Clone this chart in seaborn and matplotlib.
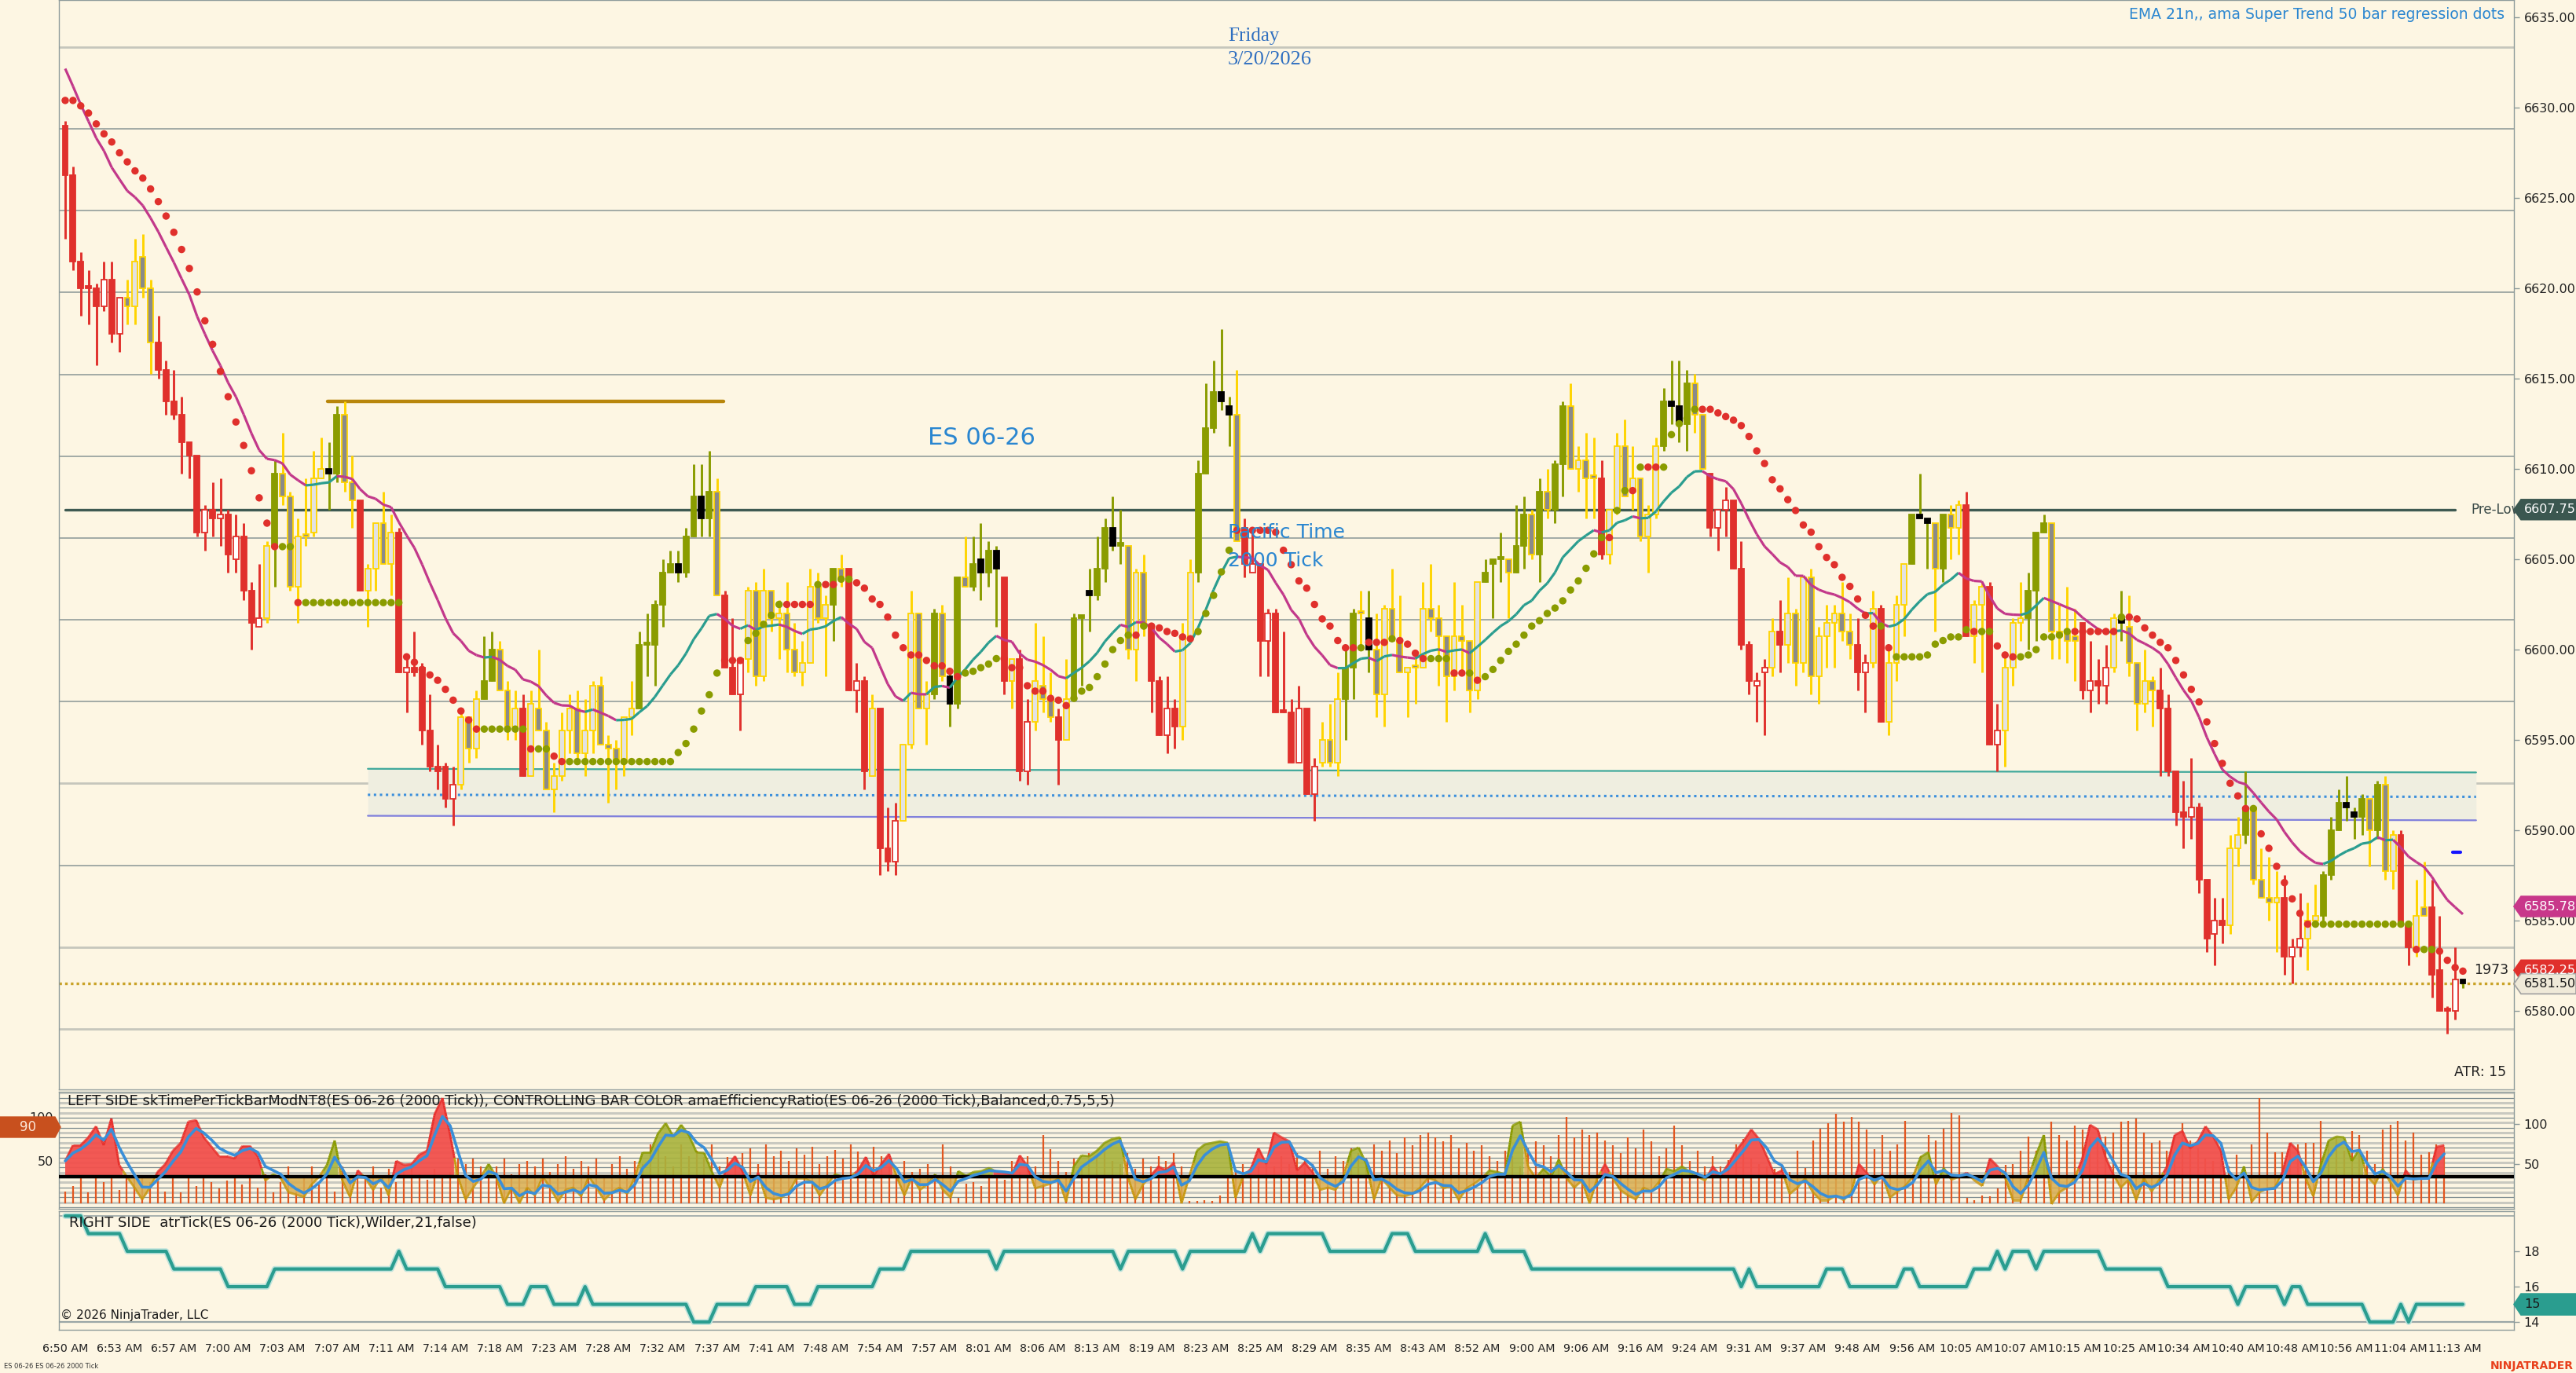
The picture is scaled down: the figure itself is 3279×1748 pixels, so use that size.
import numpy as np
import pandas as pd
import seaborn as sns
import matplotlib.pyplot as plt
from matplotlib.collections import LineCollection
from matplotlib.patches import Polygon

# ---------------- price bars (ES 06-26, 2000 tick) ----------------
opens = [
    6629.0, 6626.25, 6621.5, 6620.0, 6620.0, 6619.0, 6620.5, 6617.5, 6619.5, 6619.0,
    6621.75, 6620.0, 6617.0, 6615.5, 6613.75, 6613.0, 6611.5, 6610.75, 6606.5, 6607.75,
    6607.25, 6607.5, 6605.0, 6606.25, 6603.25, 6601.25, 6601.75, 6605.75, 6609.75, 6608.5,
    6603.5, 6606.25, 6606.5, 6609.5, 6610.0, 6609.75, 6613.0, 6609.25, 6608.25, 6603.25,
    6604.5, 6607.0, 6604.75, 6606.5, 6598.75, 6599.0, 6599.0, 6595.5, 6593.5, 6593.5,
    6591.75, 6592.5, 6596.25, 6594.5, 6597.25, 6598.25, 6600.0, 6597.75, 6595.75, 6596.75,
    6593.0, 6596.75, 6595.5, 6592.25, 6593.0, 6595.5, 6596.75, 6594.25, 6595.5, 6598.0,
    6594.75, 6594.5, 6593.75, 6596.25, 6596.75, 6600.25, 6600.25, 6602.5, 6604.25, 6604.75,
    6604.25, 6606.25, 6608.5, 6607.25, 6608.75, 6603.0, 6599.0, 6597.5, 6599.5, 6603.25,
    6598.5, 6603.25, 6601.75, 6602.0, 6600.0, 6598.75, 6599.25, 6603.5, 6601.75, 6602.5,
    6604.5, 6604.5, 6597.75, 6598.25, 6593.0, 6596.75, 6589.0, 6588.25, 6590.5, 6594.75,
    6602.0, 6596.75, 6597.5, 6602.0, 6598.5, 6597.0, 6604.0, 6603.5, 6605.0, 6604.25,
    6605.5, 6604.0, 6598.25, 6599.5, 6593.25, 6596.0, 6598.0, 6597.25, 6596.25, 6595.0,
    6597.25, 6601.75, 6603.25, 6603.0, 6604.5, 6606.75, 6605.75, 6605.75, 6600.0, 6604.25,
    6601.25, 6598.25, 6595.25, 6596.75, 6595.75, 6600.75, 6604.25, 6609.75, 6612.25, 6614.25,
    6613.5, 6613.0, 6606.75, 6604.25, 6604.75, 6600.5, 6602.0, 6596.5, 6596.5, 6593.75,
    6596.75, 6592.0, 6593.75, 6595.0, 6593.75, 6597.25, 6599.0, 6602.0, 6601.75, 6600.0,
    6597.5, 6602.25, 6600.5, 6598.75, 6599.0, 6599.0, 6602.25, 6601.75, 6600.75, 6598.5,
    6600.75, 6600.5, 6597.75, 6603.75, 6604.75, 6605.0, 6605.0, 6604.25, 6605.75, 6607.5,
    6605.25, 6608.75, 6607.75, 6610.25, 6613.5, 6610.0, 6610.5, 6609.5, 6609.5, 6605.25,
    6607.75, 6611.25, 6608.75, 6609.5, 6606.25, 6607.5, 6611.25, 6613.75, 6613.5, 6612.5,
    6614.75, 6613.0, 6609.75, 6606.75, 6607.75, 6608.25, 6604.5, 6600.25, 6598.0, 6598.75,
    6599.0, 6601.0, 6600.25, 6602.0, 6599.25, 6604.0, 6598.5, 6600.75, 6601.5, 6602.0,
    6601.0, 6600.25, 6598.75, 6599.25, 6602.25, 6596.0, 6599.25, 6602.5, 6604.75, 6607.5,
    6607.25, 6607.0, 6604.5, 6607.5, 6606.75, 6608.0, 6600.75, 6602.5, 6603.5, 6594.75,
    6595.5, 6599.0, 6601.5, 6601.75, 6603.25, 6606.5, 6607.0, 6601.0, 6601.0, 6600.75,
    6601.5, 6597.75, 6598.25, 6598.0, 6599.0, 6601.75, 6601.25, 6599.25, 6597.0, 6598.25,
    6597.75, 6596.75, 6593.25, 6591.0, 6590.75, 6591.25, 6587.25, 6584.25, 6585.0, 6584.75,
    6589.0, 6589.75, 6591.25, 6587.25, 6586.25, 6586.0, 6586.25, 6583.0, 6583.5, 6584.0,
    6585.0, 6585.25, 6587.5, 6590.0, 6591.5, 6591.0, 6590.75, 6591.75, 6590.0, 6592.5,
    6587.75, 6589.75, 6584.75, 6583.5, 6585.75, 6585.75, 6582.25, 6580.0, 6580.0, 6581.75,
]
highs = [
    6629.25, 6626.75, 6622.0, 6621.0, 6620.25, 6621.5, 6621.5, 6619.5, 6620.5, 6622.75,
    6623.0, 6620.5, 6618.5, 6616.0, 6615.5, 6614.0, 6611.5, 6610.75, 6608.0, 6609.25,
    6609.5, 6607.75, 6607.5, 6607.0, 6603.75, 6604.75, 6606.0, 6610.5, 6612.0, 6608.75,
    6607.25, 6609.5, 6611.0, 6611.75, 6611.5, 6613.5, 6613.75, 6610.75, 6608.25, 6604.75,
    6607.0, 6608.75, 6607.5, 6606.75, 6599.75, 6601.0, 6599.25, 6597.5, 6594.75, 6593.75,
    6593.5, 6596.5, 6596.25, 6597.75, 6600.75, 6601.0, 6600.5, 6598.25, 6597.75, 6597.5,
    6597.75, 6600.0, 6596.0, 6593.75, 6596.5, 6597.5, 6597.75, 6597.25, 6598.25, 6598.5,
    6595.25, 6595.0, 6596.25, 6598.25, 6601.0, 6602.0, 6602.75, 6605.0, 6605.5, 6605.5,
    6606.75, 6610.25, 6610.25, 6611.0, 6609.5, 6603.25, 6601.75, 6599.5, 6603.5, 6603.75,
    6604.5, 6603.25, 6602.75, 6603.75, 6601.5, 6600.5, 6604.5, 6604.25, 6603.0, 6604.5,
    6605.25, 6604.5, 6599.25, 6598.5, 6597.5, 6596.75, 6591.25, 6591.5, 6594.75, 6603.25,
    6602.0, 6598.25, 6602.25, 6602.5, 6598.75, 6604.0, 6606.25, 6606.25, 6607.0, 6606.0,
    6605.75, 6604.0, 6599.5, 6600.0, 6597.25, 6601.5, 6600.75, 6598.75, 6596.75, 6599.5,
    6602.0, 6601.75, 6604.5, 6606.25, 6607.25, 6608.5, 6607.75, 6605.75, 6604.5, 6605.25,
    6601.5, 6598.5, 6598.5, 6597.25, 6601.5, 6605.0, 6610.5, 6614.75, 6616.0, 6617.75,
    6614.0, 6615.5, 6607.25, 6606.75, 6604.75, 6602.25, 6602.25, 6601.0, 6597.25, 6598.0,
    6596.75, 6594.0, 6596.0, 6597.0, 6598.75, 6600.0, 6602.25, 6603.25, 6603.25, 6602.0,
    6602.5, 6604.5, 6603.0, 6599.0, 6599.75, 6603.75, 6604.75, 6602.5, 6600.75, 6603.75,
    6602.5, 6600.5, 6603.75, 6605.0, 6605.0, 6606.5, 6605.0, 6608.0, 6608.5, 6607.75,
    6609.5, 6610.0, 6610.5, 6613.75, 6614.75, 6611.25, 6612.0, 6611.75, 6610.5, 6607.75,
    6612.0, 6612.75, 6611.25, 6609.5, 6608.0, 6611.75, 6614.5, 6616.0, 6616.0, 6615.5,
    6615.25, 6613.0, 6609.75, 6607.75, 6609.0, 6608.25, 6606.0, 6600.5, 6598.75, 6599.5,
    6601.75, 6602.75, 6604.0, 6602.25, 6604.0, 6604.5, 6601.25, 6602.5, 6602.5, 6603.75,
    6602.0, 6601.75, 6599.75, 6603.25, 6602.5, 6600.0, 6603.0, 6604.75, 6607.5, 6609.75,
    6607.25, 6607.0, 6607.5, 6608.0, 6608.25, 6608.75, 6602.75, 6603.75, 6603.75, 6597.0,
    6599.75, 6601.75, 6603.75, 6604.25, 6606.5, 6607.5, 6607.0, 6602.5, 6603.5, 6602.25,
    6601.5, 6600.5, 6599.5, 6600.25, 6602.0, 6603.25, 6603.0, 6599.25, 6600.0, 6598.5,
    6599.0, 6597.5, 6593.25, 6592.75, 6594.0, 6591.5, 6587.25, 6586.25, 6586.25, 6589.75,
    6590.75, 6593.25, 6591.25, 6589.0, 6588.5, 6587.75, 6587.5, 6584.0, 6586.5, 6586.0,
    6587.0, 6587.75, 6590.75, 6592.25, 6593.0, 6591.25, 6592.0, 6591.75, 6592.75, 6593.0,
    6590.0, 6590.0, 6585.0, 6587.25, 6588.25, 6587.25, 6585.25, 6580.25, 6583.5, 6581.75,
]
lows = [
    6622.75, 6621.0, 6618.5, 6618.0, 6615.75, 6618.75, 6617.0, 6616.5, 6618.0, 6618.0,
    6619.5, 6615.25, 6615.0, 6613.0, 6612.75, 6609.75, 6609.5, 6606.25, 6605.5, 6606.25,
    6605.75, 6604.25, 6604.25, 6602.75, 6600.0, 6601.25, 6601.5, 6603.5, 6608.0, 6603.25,
    6601.5, 6605.75, 6606.25, 6609.5, 6607.75, 6609.25, 6608.75, 6606.75, 6603.25, 6601.25,
    6603.25, 6604.75, 6603.0, 6598.75, 6596.5, 6598.5, 6594.75, 6593.25, 6592.25, 6591.25,
    6590.25, 6592.25, 6593.75, 6594.0, 6597.25, 6598.25, 6597.75, 6595.0, 6595.0, 6593.0,
    6593.0, 6595.5, 6592.25, 6591.0, 6592.75, 6594.25, 6594.0, 6593.0, 6594.25, 6594.75,
    6591.5, 6592.25, 6593.0, 6595.25, 6596.75, 6598.5, 6598.0, 6601.25, 6604.25, 6603.75,
    6604.0, 6606.25, 6606.25, 6606.25, 6603.0, 6599.0, 6597.5, 6595.5, 6598.75, 6598.0,
    6598.25, 6601.0, 6599.5, 6598.75, 6598.5, 6598.0, 6599.25, 6601.5, 6598.5, 6600.5,
    6603.5, 6597.75, 6596.5, 6592.25, 6593.0, 6587.5, 6587.75, 6587.5, 6590.5, 6594.5,
    6596.75, 6594.75, 6597.25, 6598.25, 6595.75, 6596.75, 6603.5, 6603.25, 6602.75, 6603.5,
    6601.25, 6597.5, 6596.75, 6592.75, 6592.5, 6595.5, 6596.5, 6596.0, 6592.5, 6595.0,
    6597.25, 6598.0, 6601.0, 6602.75, 6603.75, 6605.5, 6604.75, 6599.5, 6598.25, 6600.75,
    6596.5, 6595.25, 6594.25, 6594.5, 6595.0, 6600.5, 6603.75, 6609.75, 6612.0, 6613.25,
    6611.25, 6606.0, 6604.0, 6604.25, 6598.5, 6598.5, 6596.5, 6596.5, 6593.75, 6593.75,
    6592.0, 6590.5, 6593.5, 6593.5, 6593.0, 6595.0, 6597.25, 6600.0, 6598.75, 6596.25,
    6595.75, 6600.5, 6598.75, 6596.25, 6597.0, 6599.0, 6601.0, 6598.0, 6596.0, 6597.75,
    6598.75, 6596.5, 6597.25, 6603.75, 6601.75, 6603.75, 6601.75, 6604.25, 6604.5, 6605.0,
    6603.75, 6607.25, 6607.0, 6608.5, 6610.0, 6608.75, 6607.25, 6607.25, 6605.0, 6604.75,
    6607.5, 6608.5, 6607.75, 6606.0, 6604.25, 6607.25, 6611.0, 6612.5, 6611.5, 6611.0,
    6612.0, 6610.0, 6606.25, 6605.5, 6606.25, 6604.5, 6600.0, 6597.5, 6596.0, 6595.25,
    6598.5, 6598.75, 6599.25, 6598.0, 6598.75, 6597.5, 6597.0, 6599.0, 6599.0, 6600.5,
    6599.5, 6597.75, 6596.5, 6599.0, 6596.0, 6595.25, 6598.25, 6600.75, 6604.75, 6607.25,
    6604.5, 6601.0, 6603.75, 6605.0, 6605.25, 6600.75, 6599.25, 6598.75, 6594.75, 6593.25,
    6593.5, 6598.0, 6600.5, 6600.0, 6600.5, 6606.5, 6599.5, 6599.5, 6599.25, 6598.25,
    6597.25, 6596.5, 6597.0, 6597.0, 6598.75, 6600.5, 6598.5, 6595.5, 6596.5, 6595.75,
    6593.0, 6593.0, 6590.25, 6589.0, 6589.5, 6586.5, 6583.25, 6582.5, 6583.75, 6584.25,
    6588.0, 6589.25, 6587.0, 6586.25, 6585.0, 6583.25, 6582.0, 6581.5, 6583.0, 6582.25,
    6584.75, 6584.75, 6587.25, 6590.0, 6590.5, 6589.5, 6589.75, 6588.0, 6589.5, 6587.25,
    6586.75, 6584.75, 6582.5, 6583.0, 6585.25, 6580.75, 6580.0, 6578.75, 6579.5, 6581.25,
]
closes = [
    6626.25, 6621.5, 6620.0, 6620.0, 6619.0, 6620.5, 6617.5, 6619.5, 6619.0, 6621.5,
    6620.0, 6617.0, 6615.5, 6613.75, 6613.0, 6611.5, 6610.75, 6606.5, 6607.75, 6607.25,
    6607.5, 6605.25, 6606.25, 6603.25, 6601.5, 6601.75, 6605.75, 6609.75, 6608.5, 6603.5,
    6606.25, 6606.25, 6609.5, 6610.0, 6609.75, 6613.0, 6609.25, 6608.25, 6603.25, 6604.5,
    6607.0, 6604.75, 6606.5, 6598.75, 6599.0, 6598.75, 6595.5, 6593.5, 6593.25, 6591.75,
    6592.5, 6596.25, 6594.5, 6597.25, 6598.25, 6600.0, 6597.75, 6595.75, 6596.75, 6593.0,
    6597.0, 6595.5, 6592.25, 6593.0, 6595.5, 6596.75, 6594.25, 6595.5, 6598.0, 6594.75,
    6594.5, 6593.75, 6596.25, 6596.75, 6600.25, 6600.25, 6602.5, 6604.25, 6604.75, 6604.25,
    6606.25, 6608.5, 6607.25, 6608.75, 6603.0, 6599.0, 6597.5, 6599.5, 6603.25, 6598.5,
    6603.25, 6601.75, 6602.0, 6600.0, 6598.75, 6599.25, 6603.5, 6601.75, 6602.5, 6604.5,
    6604.0, 6597.75, 6598.25, 6593.25, 6596.75, 6589.0, 6588.25, 6590.5, 6594.75, 6602.0,
    6596.75, 6597.5, 6602.0, 6598.5, 6597.0, 6604.0, 6603.5, 6604.75, 6604.25, 6605.5,
    6604.5, 6598.25, 6599.5, 6593.25, 6596.0, 6598.25, 6597.25, 6596.25, 6595.0, 6597.25,
    6601.75, 6601.75, 6603.0, 6604.5, 6606.75, 6605.75, 6605.75, 6600.0, 6604.25, 6601.25,
    6598.25, 6595.25, 6596.75, 6595.75, 6600.75, 6604.25, 6609.75, 6612.25, 6614.25, 6613.75,
    6613.0, 6606.0, 6604.75, 6604.75, 6600.5, 6602.0, 6596.5, 6596.5, 6593.75, 6596.75,
    6592.0, 6593.5, 6595.0, 6593.75, 6597.25, 6599.0, 6602.0, 6602.0, 6600.0, 6597.5,
    6602.25, 6600.5, 6598.75, 6599.0, 6599.0, 6602.25, 6601.75, 6600.75, 6598.5, 6600.75,
    6600.5, 6597.75, 6603.75, 6604.25, 6605.0, 6605.0, 6604.25, 6605.75, 6607.5, 6605.25,
    6608.75, 6607.75, 6610.25, 6613.5, 6610.0, 6610.5, 6609.5, 6609.5, 6605.25, 6607.75,
    6611.25, 6608.5, 6609.5, 6606.25, 6607.5, 6611.25, 6613.75, 6613.5, 6612.5, 6614.75,
    6613.0, 6610.0, 6606.75, 6607.75, 6608.25, 6604.5, 6600.25, 6598.25, 6598.25, 6599.0,
    6601.0, 6600.25, 6602.0, 6599.25, 6604.0, 6598.5, 6600.75, 6601.5, 6602.0, 6601.0,
    6600.25, 6598.75, 6599.25, 6602.25, 6596.0, 6599.25, 6602.5, 6604.75, 6607.5, 6607.25,
    6607.0, 6604.5, 6607.5, 6606.75, 6608.0, 6600.75, 6602.5, 6603.5, 6594.75, 6595.5,
    6599.0, 6601.5, 6601.75, 6603.25, 6606.5, 6607.0, 6601.0, 6600.75, 6600.5, 6600.5,
    6597.75, 6598.25, 6598.0, 6599.0, 6601.75, 6601.5, 6599.25, 6597.0, 6598.25, 6597.75,
    6596.75, 6593.25, 6591.0, 6590.75, 6591.25, 6587.25, 6584.0, 6585.0, 6584.75, 6589.0,
    6589.75, 6591.25, 6587.25, 6586.25, 6586.0, 6586.25, 6583.0, 6583.5, 6584.0, 6585.0,
    6585.25, 6587.5, 6590.0, 6591.5, 6591.25, 6590.75, 6591.75, 6590.0, 6592.5, 6587.75,
    6589.75, 6584.75, 6583.5, 6585.25, 6585.25, 6582.0, 6580.0, 6580.0, 6581.75, 6581.5,
]
# efficiency-ratio colour of each bar: R red, Y yellow, O olive  (colour, number of bars)
regime_runs = [
    ("R", 8), ("Y", 4), ("R", 14), ("Y", 1), ("O", 1), ("Y", 6), ("O", 2), ("Y", 2), ("R", 1), ("Y", 4),
    ("R", 8), ("Y", 3), ("O", 2), ("Y", 3), ("R", 1), ("Y", 14), ("O", 10), ("Y", 1), ("R", 3), ("Y", 11),
    ("O", 1), ("Y", 1), ("R", 3), ("Y", 1), ("R", 3), ("Y", 4), ("O", 1), ("Y", 1), ("O", 2), ("Y", 1),
    ("O", 4), ("R", 1), ("Y", 1), ("R", 2), ("Y", 3), ("R", 1), ("Y", 1), ("O", 7), ("Y", 3), ("R", 4),
    ("Y", 2), ("O", 5), ("Y", 1), ("R", 10), ("Y", 3), ("O", 2), ("Y", 1), ("O", 1), ("Y", 14), ("O", 3),
    ("Y", 1), ("O", 2), ("Y", 1), ("O", 1), ("Y", 1), ("O", 2), ("Y", 4), ("R", 1), ("Y", 7), ("O", 4),
    ("Y", 2), ("R", 8), ("Y", 1), ("R", 1), ("Y", 9), ("R", 2), ("Y", 1), ("R", 1), ("Y", 3), ("O", 3),
    ("Y", 1), ("O", 1), ("Y", 2), ("R", 1), ("Y", 2), ("R", 2), ("Y", 3), ("O", 3), ("Y", 4), ("R", 4),
    ("Y", 1), ("O", 1), ("Y", 4), ("R", 9), ("Y", 2), ("O", 1), ("Y", 4), ("R", 3), ("Y", 2), ("O", 6),
    ("Y", 1), ("O", 1), ("Y", 2), ("R", 2), ("Y", 2), ("R", 4), ("O", 1),
]
# super trend dots: value per bar, and side (D red above price, U olive below)
st_values = [
    6630.4, 6630.4, 6630.1, 6629.7, 6629.1, 6628.55, 6628.1, 6627.5, 6627.0, 6626.5,
    6626.1, 6625.5, 6624.8, 6624.0, 6623.1, 6622.15, 6621.1, 6619.8, 6618.2, 6616.9,
    6615.4, 6614.0, 6612.6, 6611.3, 6609.9, 6608.4, 6607.0, 6605.7, 6605.7, 6605.7,
    6602.6, 6602.6, 6602.6, 6602.6, 6602.6, 6602.6, 6602.6, 6602.6, 6602.6, 6602.6,
    6602.6, 6602.6, 6602.6, 6602.6, 6599.6, 6599.3, 6598.9, 6598.6, 6598.3, 6597.8,
    6597.2, 6596.6, 6596.1, 6595.6, 6595.6, 6595.6, 6595.6, 6595.6, 6595.6, 6595.6,
    6594.5, 6594.5, 6594.5, 6594.1, 6593.8, 6593.8, 6593.8, 6593.8, 6593.8, 6593.8,
    6593.8, 6593.8, 6593.8, 6593.8, 6593.8, 6593.8, 6593.8, 6593.8, 6593.8, 6594.3,
    6594.8, 6595.6, 6596.6, 6597.5, 6598.7, 6599.4, 6599.4, 6599.4, 6600.5, 6600.9,
    6601.4, 6601.9, 6602.5, 6602.5, 6602.5, 6602.5, 6602.5, 6603.6, 6603.6, 6603.6,
    6603.9, 6603.9, 6603.7, 6603.4, 6602.8, 6602.5, 6601.8, 6600.8, 6600.1, 6599.7,
    6599.7, 6599.4, 6599.1, 6599.1, 6598.8, 6598.5, 6598.7, 6598.8, 6599.0, 6599.2,
    6599.5, 6599.5, 6599.0, 6599.0, 6598.0, 6597.7, 6597.7, 6597.3, 6597.2, 6596.9,
    6597.3, 6597.7, 6597.9, 6598.5, 6599.2, 6600.0, 6600.5, 6600.8, 6600.8, 6601.3,
    6601.3, 6601.2, 6601.0, 6600.9, 6600.7, 6600.6, 6601.0, 6602.0, 6603.0, 6604.3,
    6605.5, 6606.6, 6606.6, 6606.6, 6606.6, 6606.6, 6606.5, 6605.5, 6604.7, 6603.8,
    6603.4, 6602.5, 6601.7, 6601.3, 6600.5, 6600.1, 6600.1, 6600.1, 6600.4, 6600.4,
    6600.4, 6600.6, 6600.5, 6600.3, 6599.8, 6599.5, 6599.5, 6599.5, 6599.5, 6598.7,
    6598.7, 6598.7, 6598.3, 6598.5, 6598.9, 6599.4, 6599.9, 6600.3, 6600.8, 6601.3,
    6601.6, 6602.0, 6602.3, 6602.7, 6603.3, 6603.8, 6604.5, 6605.3, 6606.2, 6606.2,
    6607.7, 6608.8, 6608.8, 6610.1, 6610.1, 6610.1, 6610.1, 6611.9, 6612.5, 6612.8,
    6613.3, 6613.3, 6613.3, 6613.1, 6612.9, 6612.7, 6612.4, 6611.8, 6611.0, 6610.3,
    6609.4, 6608.9, 6608.3, 6607.7, 6606.9, 6606.5, 6605.7, 6605.1, 6604.7, 6604.0,
    6603.5, 6602.8, 6601.9, 6601.3, 6601.3, 6600.1, 6599.6, 6599.6, 6599.6, 6599.6,
    6599.7, 6600.3, 6600.5, 6600.7, 6600.7, 6601.1, 6601.0, 6601.0, 6601.0, 6600.2,
    6599.7, 6599.6, 6599.6, 6599.7, 6600.0, 6600.7, 6600.7, 6600.8, 6601.0, 6601.0,
    6601.0, 6601.0, 6601.0, 6601.0, 6601.0, 6601.8, 6601.8, 6601.7, 6601.2, 6600.8,
    6600.4, 6600.1, 6599.4, 6598.6, 6597.8, 6597.1, 6596.0, 6594.8, 6593.7, 6592.6,
    6591.9, 6591.2, 6591.2, 6589.8, 6589.0, 6588.0, 6587.1, 6586.2, 6585.4, 6584.8,
    6584.8, 6584.8, 6584.8, 6584.8, 6584.8, 6584.8, 6584.8, 6584.8, 6584.8, 6584.8,
    6584.8, 6584.8, 6584.8, 6583.4, 6583.4, 6583.4, 6583.3, 6582.8, 6582.4, 6582.2,
]
trend_runs = [
    ("D", 28), ("U", 2), ("D", 1), ("U", 13), ("D", 10), ("U", 6), ("D", 1), ("U", 2), ("D", 2), ("U", 20),
    ("D", 3), ("U", 5), ("D", 4), ("U", 1), ("D", 2), ("U", 2), ("D", 14), ("U", 5), ("D", 9), ("U", 8),
    ("D", 1), ("U", 1), ("D", 6), ("U", 5), ("D", 16), ("U", 1), ("D", 3), ("U", 1), ("D", 4), ("U", 3),
    ("D", 2), ("U", 1), ("D", 1), ("U", 16), ("D", 1), ("U", 2), ("D", 1), ("U", 1), ("D", 2), ("U", 5),
    ("D", 23), ("U", 1), ("D", 1), ("U", 10), ("D", 1), ("U", 2), ("D", 3), ("U", 7), ("D", 6), ("U", 1),
    ("D", 16), ("U", 1), ("D", 7), ("U", 13), ("D", 1), ("U", 2), ("D", 4),
]
ema_seed = 6632.75
pre_low = 6607.75
last_price = 6581.50
level_gold = 6613.75

# ---------------- skTimePerTickBar panel ----------------
tpt_area = [
    54, 74, 74, 84, 98, 74, 108, 49, 34, 20,
    5, 20, 40, 50, 67, 77, 104, 106, 84, 72,
    60, 60, 57, 73, 73, 60, 29, 37, 32, 14,
    11, 8, 24, 34, 49, 80, 29, 8, 42, 32,
    17, 34, 10, 54, 49, 50, 62, 67, 114, 134,
    87, 34, 5, 20, 34, 50, 34, 0, 20, 0,
    20, 10, 34, 20, 2, 17, 20, 9, 34, 20,
    4, 14, 20, 12, 34, 65, 65, 89, 102, 85,
    100, 87, 65, 64, 40, 20, 47, 60, 40, 10,
    39, 7, 5, 7, 14, 32, 32, 27, 10, 24,
    37, 34, 34, 42, 59, 35, 50, 63, 34, 10,
    34, 17, 24, 37, 17, 7, 41, 35, 40, 41,
    45, 40, 39, 37, 61, 47, 19, 22, 25, 32,
    2, 47, 61, 60, 67, 77, 82, 84, 34, 5,
    24, 35, 47, 42, 52, 0, 34, 67, 75, 77,
    79, 77, 7, 34, 44, 70, 50, 90, 84, 79,
    42, 52, 40, 17, 20, 17, 34, 67, 71, 50,
    5, 32, 20, 10, 9, 12, 20, 32, 29, 19,
    22, 4, 19, 25, 32, 42, 40, 37, 99, 104,
    47, 32, 44, 34, 56, 32, 20, 29, 0, 32,
    50, 32, 17, 10, 5, 20, 15, 27, 44, 41,
    47, 40, 34, 29, 47, 35, 50, 67, 79, 94,
    82, 60, 37, 42, 12, 20, 32, 14, 4, 4,
    10, 4, 15, 50, 39, 24, 37, 7, 15, 22,
    34, 59, 65, 24, 45, 30, 34, 39, 29, 22,
    57, 47, 32, 4, 4, 34, 62, 87, -1, 14,
    20, 32, 57, 100, 94, 59, 37, 20, 30, 4,
    32, 15, 30, 47, 87, 92, 70, 79, 98, 85,
    67, 5, 20, 47, 2, 14, 19, 20, 40, 77,
    67, 32, 9, 50, 80, 85, 84, 54, 69, 34,
    24, 44, 27, 10, 42, 30, 32, 32, 72, 74,
]
area_red_runs = [(0, 7), (12, 25), (38, 38), (43, 50), (86, 88), (90, 90), (103, 107), (121, 125),
                 (141, 144), (154, 162), (200, 200), (214, 223), (233, 234), (236, 236), (247, 247),
                 (250, 251), (262, 266), (273, 280), (288, 290), (304, 304), (308, 309)]
area_olive_runs = [(26, 27), (34, 35), (55, 55), (75, 84), (100, 100), (113, 113), (116, 120),
                   (131, 137), (147, 151), (167, 169), (185, 189), (192, 194), (208, 211),
                   (241, 244), (256, 257), (283, 283), (293, 298), (301, 301)]
tpt_bars = [
    15, 22, 34, 14, 34, 27, 34, 17, 34, 32, 34, 27, 34, 15, 34, 14, 34, 22, 34, 27, 19, 29, 34, 24, 34, 20,
    37, 14, 27, 47, 15, 34, 47, 24, 40, 15, 47, 32, 37, 34, 47, 20, 44, 27, 40, 50, 37, 30, 44, 34, 40,
    57, 50, 57, 47, 50, 47, 57, 37, 50, 54, 47, 57, 40, 50, 60, 44, 54, 47, 57, 34, 50, 60, 44, 54, 50,
    75, 70, 60, 47, 75, 60, 67, 59, 75, 47, 59, 57, 64, 70, 50, 75, 60, 67, 54, 70, 62, 72, 50, 60, 68,
    57, 75, 66, 54, 72, 60,
    47, 37, 54, 40, 44, 50, 37, 75, 47, 7, 25, 27, 22, 37, 34, 30, 54, 40, 60, 47, 87, 69, 54, 40, 57,
    44, 64, 60, 67, 54, 50, 64, 44, 57, 47, 60, 54, 64, 47,
    3, 3, 4, 3, 10,
    34, 40, 50, 37, 47, 54, 47, 60, 50, 64, 57, 50, 67, 44, 60, 54, 70, 64, 57, 75, 67, 80, 64, 84, 74,
    87, 90, 84, 79, 87, 70, 77, 67, 74, 60,
    54, 67, 60, 47, 70, 79, 74, 60, 87, 110, 84, 94, 87, 90, 80, 74, 64, 84, 70, 94, 79, 60, 70, 99, 74,
    54, 67, 47, 60,
    47, 55, 75, 82, 57, 50, 47, 44, 50, 40, 67, 45, 80, 95, 102, 114, 104, 110, 104, 94, 69, 87, 67, 75,
    105, 37, 60, 87, 80, 95, 115, 112,
    7, 4, 10, 9,
    19, 49, 50, 67, 85, 67, 87, 104, 87, 80, 99, 94, 85, 80, 85, 90, 104, 105, 108, 90, 77, 80, 67, 65,
    102, 80, 70, 57, 54, 62,
    47, 62, 47, 75, 134, 90, 65, 65, 77, 75, 77, 77, 105, 80, 85, 67, 92, 87, 67, 50, 94, 100, 105, 80,
    90, 62, 65, 75, 72,
]
tpt_zero = 34
# these panel readings were taken every 9.80 px while the bars sit every 9.877 px
tpt_step = 9.80 / 9.877

# ---------------- atrTick panel (ticks): (value, number of bars) ----------------
atr_runs = [
    (20, 3), (19, 5), (18, 6), (17, 7), (16, 6), (17, 16), (18, 1), (17, 5), (16, 8), (15, 3),
    (16, 3), (15, 4), (16, 1), (15, 13), (14, 3), (15, 5), (16, 5), (15, 3), (16, 8), (17, 4),
    (18, 11), (17, 1), (18, 15), (17, 1), (18, 7), (17, 1), (18, 8), (19, 1), (18, 1), (19, 8),
    (18, 8), (19, 3), (18, 9), (19, 1), (18, 5), (17, 27), (16, 1), (17, 1), (16, 9), (17, 3),
    (16, 7), (17, 2), (16, 7), (17, 3), (18, 1), (17, 1), (18, 3), (17, 1), (18, 8), (17, 8),
    (16, 9), (15, 1), (16, 5), (15, 1), (16, 2), (15, 8), (14, 4), (15, 1), (14, 1), (15, 7),
]

time_labels = [
    "6:50 AM", "6:53 AM", "6:57 AM", "7:00 AM", "7:03 AM", "7:07 AM", "7:11 AM", "7:14 AM", "7:18 AM",
    "7:23 AM", "7:28 AM", "7:32 AM", "7:37 AM", "7:41 AM", "7:48 AM", "7:54 AM", "7:57 AM", "8:01 AM",
    "8:06 AM", "8:13 AM", "8:19 AM", "8:23 AM", "8:25 AM", "8:29 AM", "8:35 AM", "8:43 AM", "8:52 AM",
    "9:00 AM", "9:06 AM", "9:16 AM", "9:24 AM", "9:31 AM", "9:37 AM", "9:48 AM", "9:56 AM", "10:05 AM",
    "10:07 AM", "10:15 AM", "10:25 AM", "10:34 AM", "10:40 AM", "10:48 AM", "10:56 AM", "11:04 AM",
    "11:13 AM",
]

# ---------------- derived series ----------------
o = np.array(opens, float)
c = np.array(closes, float)
h = np.maximum(np.array(highs, float), np.maximum(o, c))
l = np.minimum(np.array(lows, float), np.minimum(o, c))
n = len(c)
x = np.arange(n)
regime = "".join(k * m for k, m in regime_runs)
side = "".join(k * m for k, m in trend_runs)
atr_ticks = np.concatenate([[v] * m for v, m in atr_runs]).astype(float)

# EMA 21
alpha = 2 / 22
ema = np.empty(n)
prev = ema_seed
for i in range(n):
    prev = prev + alpha * (c[i] - prev)
    ema[i] = prev

# ---------------- figure ----------------
W, H = 3279, 1748
BG = "#fdf6e3"
RED, YEL, OLV = "#e0302c", "#ffd400", "#8a9c00"
BLUE_TXT = "#2a86d0"
sns.set_style("white", {"axes.facecolor": BG, "figure.facecolor": BG})
plt.rcParams["font.family"] = ["DejaVu Sans"]

fig = plt.figure(figsize=(W / 100, H / 100), dpi=100)


def rect(top, bottom):
    return [75 / W, 1 - bottom / H, (3200 - 75) / W, (bottom - top) / H]


ax = fig.add_axes(rect(0, 1387))
ax_t = fig.add_axes(rect(1390, 1539))
ax_a = fig.add_axes(rect(1542, 1693))
XL = (-0.81, 315.58)
for a in (ax, ax_t, ax_a):
    a.set_xlim(XL)
    a.set_facecolor(BG)
    for sp in a.spines.values():
        sp.set_color("#8e9b9b")
        sp.set_linewidth(1.0)

# ---- main price panel ----
ax.set_ylim(6575.65, 6635.96)
for k, gp in enumerate(np.arange(6579.0, 6634.5, 4.53)):
    if k in (0, 1, 3, 12):
        ax.axhline(gp, color="#c6c6bc", lw=2.0, zorder=0)
    else:
        ax.axhline(gp, color="#8a9696", lw=1.1, zorder=0)

zx = [39.0, 310.7]
ax.fill_between(zx, [6590.8, 6590.55], [6593.4, 6593.2], color="#efeee0", lw=0, zorder=1)
ax.plot(zx, [6593.4, 6593.2], color="#3fa89b", lw=1.6, zorder=2)
ax.plot(zx, [6591.96, 6591.85], color="#3b8fdc", lw=2.2, ls=(0, (1, 1.5)), zorder=2)
ax.plot(zx, [6590.8, 6590.55], color="#8080dc", lw=1.6, zorder=2)
ax.plot([0, 308.0], [pre_low, pre_low], color="#3e5a52", lw=2.4, zorder=2)
ax.plot([33.8, 84.8], [level_gold, level_gold], color="#b8860b", lw=3.2, zorder=2)
ax.axhline(last_price, color="#c9a227", lw=2.4, ls=(0, (1, 1.2)), zorder=2)

# candles
face, edge = [], []
for i in range(n):
    r = regime[i]
    upbar, dn = c[i] > o[i], c[i] < o[i]
    if r == "R":
        ec = RED
        fc = "white" if upbar else RED
    elif r == "Y":
        ec = YEL
        fc = "#e2e2e2" if upbar else "#8a8a8a"
    else:
        ec = "#000000" if dn else OLV
        fc = "#000000" if dn else OLV
    face.append(fc)
    edge.append(ec)
wick = [RED if r == "R" else (YEL if r == "Y" else OLV) for r in regime]
ax.vlines(x, l, h, colors=wick, lw=2.1, zorder=3)
body_lo = np.minimum(o, c)
body_h = np.maximum(np.abs(c - o), 0.15)
ax.bar(x, body_h, bottom=body_lo, width=0.7, color=face, edgecolor=edge, linewidth=1.3, zorder=4)

# EMA 21 coloured by slope
pts = np.column_stack([x, ema]).reshape(-1, 1, 2)
segs = np.concatenate([pts[:-1], pts[1:]], axis=1)
seg_col = ["#2a9d8f" if ema[i + 1] >= ema[i] else "#c2388a" for i in range(n - 1)]
ax.add_collection(LineCollection(segs, colors=seg_col, linewidths=2.3, zorder=5))

# super trend dots
dots = pd.DataFrame({"bar": x, "st": st_values, "side": list(side)})
sns.scatterplot(data=dots, x="bar", y="st", hue="side", palette={"U": OLV, "D": RED},
                s=46, linewidth=0, legend=False, ax=ax, zorder=6)
ax.plot([307.7, 308.7], [6588.8, 6588.8], color="#1414ff", lw=3, zorder=6)

ax.set_xlabel("")
ax.set_ylabel("")
ax.set_xticks([])
ax.yaxis.tick_right()
yt = np.arange(6580, 6636, 5)
ax.set_yticks(yt)
ax.set_yticklabels([f"{v:.2f}" for v in yt])
ax.tick_params(axis="y", length=5, width=1, color="#8e9b9b", labelsize=11.5, labelcolor="#222222", pad=4)

ax.text(310.0, pre_low, "Pre-Low", fontsize=12, color="#3a4a48", va="center", ha="left", zorder=8)
ax.text(310.4, 6582.25, "1973", fontsize=12.5, color="#222222", va="center", ha="left", zorder=8)
ax.text(314.6, 6576.6, "ATR: 15", fontsize=12.5, color="#222222", va="center", ha="right", zorder=8)


def price_box(a, y, text, fc, tc, ec=None, half=0.56):
    tr = a.get_yaxis_transform()
    xt = 1.0 + 9 / 3125
    x1 = (3279 - 75) / 3125
    poly = Polygon([(1.0, y), (xt, y + half), (x1, y + half), (x1, y - half), (xt, y - half)],
                   closed=True, transform=tr, facecolor=fc, edgecolor=ec or fc, lw=1.2,
                   clip_on=False, zorder=20)
    a.add_patch(poly)
    a.text(xt + 4 / 3125, y, text, transform=tr, fontsize=11.5, color=tc, va="center",
           ha="left", clip_on=False, zorder=21)


price_box(ax, pre_low, "6607.75", "#3b5750", "white")
price_box(ax, 6585.78, "6585.78", "#c8378a", "white")
price_box(ax, 6582.25, "6582.25", RED, "white")
price_box(ax, last_price, "6581.50", "#efe9d8", "#1a1a1a", ec="#a0a0a0")

# ---- skTimePerTickBar panel ----
ax_t.set_ylim(-7, 142)
for k in range(-1, 23):
    gv = 1.3 + 6.33 * k
    if k % 2 == 0:
        ax_t.axhline(gv, color="#c9c9c0", lw=2.2, zorder=0)
    else:
        ax_t.axhline(gv, color="#7d8b8f", lw=0.9, zorder=0)
xt_pos = x * tpt_step
ax_t.vlines(xt_pos, 0, tpt_bars, color="#e2561f", lw=1.6, zorder=1)

area = np.array(tpt_area, float)
acol = np.array(["y"] * n)
for s0, s1 in area_red_runs:
    acol[s0:s1 + 1] = "r"
for s0, s1 in area_olive_runs:
    acol[s0:s1 + 1] = "o"
fi = np.linspace(0, n - 1, (n - 1) * 20 + 1)
xf = fi * tpt_step
af = np.interp(fi, x, area)
cf = acol[np.clip(np.rint(fi).astype(int), 0, n - 1)]
above = af >= tpt_zero
ax_t.fill_between(xf, af, tpt_zero, where=above & (cf == "r"), color="#f2504c", alpha=0.95, lw=0, zorder=2)
ax_t.fill_between(xf, af, tpt_zero, where=above & (cf == "o"), color="#a9b33c", alpha=0.9, lw=0, zorder=2)
ax_t.fill_between(xf, af, tpt_zero, where=(af <= tpt_zero) | (above & (cf == "y")),
                  color="#d9ad4f", alpha=0.85, lw=0, zorder=2)
pf = np.column_stack([xf, af]).reshape(-1, 1, 2)
segf = np.concatenate([pf[:-1], pf[1:]], axis=1)
mid = (af[:-1] + af[1:]) / 2
cmid = cf[:-1]
ocol = np.where(mid > tpt_zero, np.where(cmid == "r", "#e8302c", np.where(cmid == "o", "#8a9a00", "#c8960c")),
                "#c8960c")
ax_t.add_collection(LineCollection(segf, colors=list(ocol), linewidths=2.0, zorder=3))
ax_t.axhline(tpt_zero, color="black", lw=3.2, zorder=4)
blue = pd.Series(area).ewm(span=3, adjust=False).mean()
sns.lineplot(x=xt_pos, y=blue.values, ax=ax_t, color="#3a8fd8", lw=2.6, zorder=5)
ax_t.set_xlim(XL)
ax_t.set_xlabel("")
ax_t.set_ylabel("")
ax_t.set_xticks([])
ax_t.yaxis.tick_right()
ax_t.set_yticks([50, 101])
ax_t.set_yticklabels(["50", "100"])
ax_t.tick_params(axis="y", length=5, width=1, color="#8e9b9b", labelsize=11.5, labelcolor="#222222", pad=4)
ax_t.text(0.3, 130, "LEFT SIDE skTimePerTickBarModNT8(ES 06-26 (2000 Tick)), CONTROLLING BAR COLOR "
          "amaEfficiencyRatio(ES 06-26 (2000 Tick),Balanced,0.75,5,5)",
          fontsize=13, color="#1a1a1a", va="center", ha="left", zorder=8)

# ---- atrTick panel ----
ax_a.set_ylim(13.56, 20.27)
ax_a.axhline(14, color="#9aa6a6", lw=1.6, zorder=0)
ax_a.axhline(20, color="#9aa6a6", lw=1.2, zorder=0)
sns.lineplot(x=x, y=atr_ticks, ax=ax_a, color="#bfe3dc", lw=5.5, zorder=2)
sns.lineplot(x=x, y=atr_ticks, ax=ax_a, color="#2a9d8f", lw=3.0, zorder=3)
ax_a.set_xlim(XL)
ax_a.set_xlabel("")
ax_a.set_ylabel("")
ax_a.yaxis.tick_right()
ax_a.set_yticks([14, 16, 18])
ax_a.set_yticklabels(["14", "16", "18"])
ax_a.tick_params(axis="y", length=5, width=1, color="#8e9b9b", labelsize=11.5, labelcolor="#222222", pad=4)
ax_a.set_xticks(np.arange(0, 7 * len(time_labels), 7))
ax_a.set_xticklabels(time_labels)
ax_a.tick_params(axis="x", length=6, width=1, color="#8e9b9b", labelsize=10.3, labelcolor="#222222", pad=6)
ax_a.text(0.5, 19.6, "RIGHT SIDE  atrTick(ES 06-26 (2000 Tick),Wilder,21,false)",
          fontsize=13, color="#1a1a1a", va="center", ha="left", zorder=8)
ax_a.text(-0.6, 14.4, "\u00a9 2026 NinjaTrader, LLC", fontsize=11, color="#1a1a1a",
          va="center", ha="left", zorder=8)
price_box(ax_a, 15, "15", "#2a9d8f", "#1a1a1a", half=0.6)

# ---- figure level texts ----
def fx(px):
    return px / W


def fy(py):
    return 1 - py / H


fig.text(fx(3188), fy(19), "EMA 21n,, ama Super Trend 50 bar regression dots", fontsize=13.5,
         color=BLUE_TXT, ha="right", va="center")
serif = ["Liberation Serif", "DejaVu Serif"]
fig.text(fx(1563), fy(46), "Friday", fontsize=18, color="#2f6fc0", family=serif, ha="left", va="center")
fig.text(fx(1563), fy(76), "3/20/2026", fontsize=19, color="#2f6fc0", family=serif, ha="left", va="center")
fig.text(fx(1181), fy(558), "ES 06-26", fontsize=22, color=BLUE_TXT, ha="left", va="center")
fig.text(fx(1563), fy(678), "Pacific Time", fontsize=18, color=BLUE_TXT, ha="left", va="center", zorder=30)
fig.text(fx(1563), fy(714), "2000 Tick", fontsize=18, color=BLUE_TXT, ha="left", va="center", zorder=30)
fig.text(fx(5), fy(1739), "ES 06-26 ES 06-26 2000 Tick", fontsize=6, color="#333333", ha="left", va="center")
fig.text(fx(3276), fy(1739), "NINJATRADER", fontsize=10, color="#e8401c", weight="bold", ha="right", va="center")

# left scale of the time-per-tick panel with its marker
fig.text(fx(68), fy(1424), "100", fontsize=11.5, color="#222222", ha="right", va="center")
fig.text(fx(68), fy(1479), "50", fontsize=11.5, color="#222222", ha="right", va="center")
by = 1435
fig.patches.append(Polygon([(fx(0), fy(by - 13)), (fx(70), fy(by - 13)), (fx(77), fy(by)),
                            (fx(70), fy(by + 13)), (fx(0), fy(by + 13))], closed=True,
                           transform=fig.transFigure, facecolor="#c8501e", edgecolor="#c8501e",
                           figure=fig, zorder=20))
fig.text(fx(36), fy(by), "90", fontsize=12, color="#fde8d8", ha="center", va="center", zorder=21)

fig.savefig("out.png", dpi=100, facecolor=BG)
